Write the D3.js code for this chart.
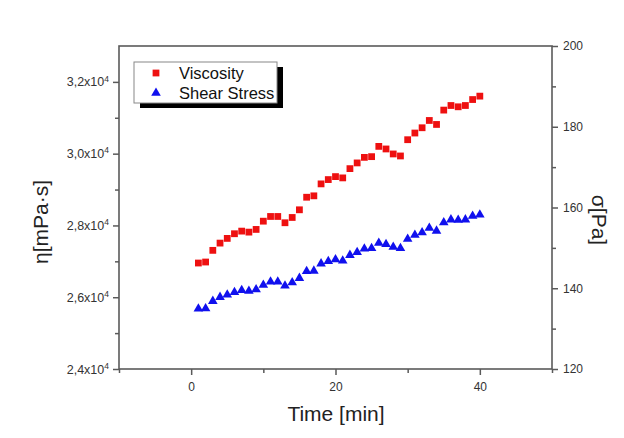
<!DOCTYPE html>
<html><head><meta charset="utf-8">
<script src="https://cdn.jsdelivr.net/npm/d3@7"></script>
<style>body{margin:0;background:#fff}svg{display:block}</style>
</head><body>
<svg id="c" width="624" height="438"></svg>
<script>
const time = d3.range(1, 41);
const viscosity = [26953,26981,27306,27508,27639,27769,27842,27814,27889,28119,
  28250,28250,28075,28222,28436,28786,28825,29158,29278,29361,
  29325,29583,29742,29897,29917,30203,30131,29992,29936,30389,
  30575,30722,30925,30814,31214,31342,31306,31342,31508,31603];
const shearStress = [134.9,135.0,136.8,137.8,138.4,139.0,139.5,139.3,139.7,140.8,
  141.6,141.6,140.6,141.4,142.5,144.2,144.3,146.1,146.7,147.1,
  146.8,148.2,148.9,149.8,149.9,151.2,150.9,150.2,149.9,152.2,
  153.2,153.8,154.9,154.2,156.3,157.0,156.9,157.0,157.9,158.2];
const xTicks = [0, 20, 40];
const xMinor = [-10, 10, 30, 50];
const yLTicks = [24000, 26000, 28000, 30000, 32000];
const yLMinor = [25000, 27000, 29000, 31000];
const yRTicks = [120, 140, 160, 180, 200];
const yRMinor = [130, 150, 170, 190];
const seriesNames = ["Viscosity", "Shear Stress"];

const svg = d3.select("#c");
const FONT = "'Liberation Sans', Arial, sans-serif";
const L = 119, R = 552, T = 46, B = 369;
const x = d3.scaleLinear().domain([-10, 50]).range([L, R]);
const yL = d3.scaleLinear().domain([24000, 33000]).range([B, T]);
const yR = d3.scaleLinear().domain([120, 200]).range([B, T]);
const axisColor = "#5a5a5a";

// frame
svg.append("rect").attr("x", L).attr("y", T).attr("width", R - L).attr("height", B - T)
  .attr("fill", "none").attr("stroke", axisColor).attr("stroke-width", 1.6);

function styleAxis(g) {
  g.select(".domain").remove();
  g.selectAll("line").attr("stroke", axisColor).attr("stroke-width", 1.5);
  g.selectAll("text").attr("fill", "#333").style("font-family", FONT).style("font-size", "12px");
}

// bottom axis
svg.append("g").attr("transform", `translate(0,${B})`)
  .call(d3.axisBottom(x).tickValues(xTicks).tickSize(6).tickPadding(7).tickFormat(d3.format("d")))
  .call(styleAxis);
svg.append("g").attr("transform", `translate(0,${B})`)
  .call(d3.axisBottom(x).tickValues(xMinor).tickSize(4).tickFormat(""))
  .call(styleAxis);

// left axis
const gl = svg.append("g").attr("transform", `translate(${L},0)`)
  .call(d3.axisLeft(yL).tickValues(yLTicks).tickSize(6).tickPadding(4).tickFormat(""))
  .call(styleAxis);
gl.selectAll(".tick text").style("font-size", "12.5px").each(function(d) {
  const t = d3.select(this);
  t.text(null);
  t.append("tspan").text(d3.format(".1f")(d / 10000).replace(".", ",") + "x10");
  t.append("tspan").attr("dy", "-0.55em").style("font-size", "8.5px").text("4");
});
svg.append("g").attr("transform", `translate(${L},0)`)
  .call(d3.axisLeft(yL).tickValues(yLMinor).tickSize(4).tickFormat(""))
  .call(styleAxis);

// right axis
svg.append("g").attr("transform", `translate(${R},0)`)
  .call(d3.axisRight(yR).tickValues(yRTicks).tickSize(6).tickPadding(5).tickFormat(d3.format("d")))
  .call(styleAxis);
svg.append("g").attr("transform", `translate(${R},0)`)
  .call(d3.axisRight(yR).tickValues(yRMinor).tickSize(4).tickFormat(""))
  .call(styleAxis);

// titles
svg.append("text").attr("x", 336).attr("y", 421).attr("text-anchor", "middle")
  .style("font-family", FONT).style("font-size", "21px").attr("fill", "#222").text("Time [min]");
svg.append("text").attr("transform", "translate(48,222) rotate(-90)").attr("text-anchor", "middle")
  .style("font-family", FONT).style("font-size", "21px").attr("fill", "#222").text("η[mPa·s]");
svg.append("text").attr("transform", "translate(592,220) rotate(90)").attr("text-anchor", "middle")
  .style("font-family", FONT).style("font-size", "21px").attr("fill", "#222").text("σ[Pa]");

// data
const sq = d3.symbol().type(d3.symbolSquare).size(46);
const tri = d3.symbol().type(d3.symbolTriangle).size(40);
const red = "#ee1010", blue = "#1010ee";
svg.append("g").selectAll("path").data(time).join("path")
  .attr("d", sq).attr("fill", red)
  .attr("transform", (d, i) => `translate(${x(d)},${yL(viscosity[i])})`);
svg.append("g").selectAll("path").data(time).join("path")
  .attr("d", tri).attr("fill", blue)
  .attr("transform", (d, i) => `translate(${x(d)},${yR(shearStress[i])})`);

// legend
const lg = svg.append("g");
lg.append("rect").attr("x", 140).attr("y", 67).attr("width", 143).attr("height", 41).attr("fill", "#000");
lg.append("rect").attr("x", 134).attr("y", 62).attr("width", 143).attr("height", 41)
  .attr("fill", "#fff").attr("stroke", "#888").attr("stroke-width", 1);
lg.append("path").attr("d", sq).attr("fill", red).attr("transform", "translate(156,73)");
lg.append("path").attr("d", tri).attr("fill", blue).attr("transform", "translate(156,93)");
lg.selectAll("text.lt").data(seriesNames).join("text").attr("class", "lt")
  .attr("x", 179).attr("y", (d, i) => 78.5 + i * 20)
  .style("font-family", FONT).style("font-size", "16.5px").attr("fill", "#111").text(d => d);
</script>
</body></html>
